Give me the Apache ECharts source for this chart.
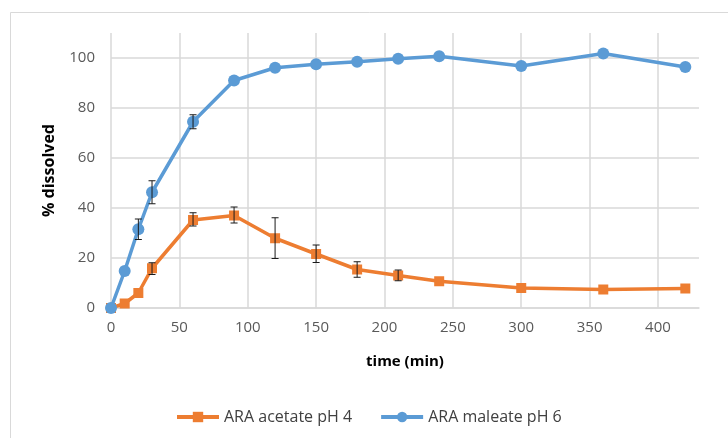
<!DOCTYPE html>
<html>
<head>
<meta charset="utf-8">
<script src="https://cdn.jsdelivr.net/npm/echarts@6/dist/echarts.min.js"></script>
<style>
  html, body { margin: 0; padding: 0; background: #fff; }
  #chart { width: 728px; height: 438px; }
</style>
</head>
<body>
<div id="chart"></div>
<script>
// Sampling times (min)
const times = [0, 10, 20, 30, 60, 90, 120, 150, 180, 210, 240, 300, 360, 420];

// % dissolved, mean values
const acetatePH4 = [0, 1.8, 6.0, 15.9, 35.2, 37.0, 27.9, 21.6, 15.4, 13.0, 10.7, 8.0, 7.4, 7.8];
const maleatePH6 = [0, 14.8, 31.5, 46.3, 74.5, 91.0, 96.1, 97.5, 98.5, 99.7, 100.7, 96.8, 101.8, 96.4];

// Error bar ranges [time, low, high]
const acetateErr = [
  [30, 13.4, 18.1], [60, 32.8, 38.1], [90, 34.0, 40.4], [120, 19.8, 36.1],
  [150, 18.2, 25.2], [180, 12.3, 18.5], [210, 10.9, 15.2]
];
const maleateErr = [
  [20, 27.4, 35.6], [30, 41.7, 50.9], [60, 71.7, 77.3]
];

// Axis ticks
const xTicks = [0, 50, 100, 150, 200, 250, 300, 350, 400];
const yTicks = [0, 20, 40, 60, 80, 100];

const seriesNames = ['ARA acetate pH 4', 'ARA maleate pH 6'];

const gridColor = '#d9d9d9';
const labelColor = '#595959';
const orange = '#ED7D31';
const blue = '#5B9BD5';
const font = '"Open Sans", "Liberation Sans", sans-serif';

const pairs = (xs, ys) => xs.map((x, i) => [x, ys[i]]);

// Grid lines at the labelled ticks only; the closing line at the axis max stays hidden
const xLineColors = xTicks.map(() => gridColor).concat(['rgba(0,0,0,0)']);
const yLineColors = yTicks.map(() => gridColor).concat(['rgba(0,0,0,0)']);

function errorBarRenderer(params, api) {
  const x = api.value(0);
  const lo = api.coord([x, api.value(1)]);
  const hi = api.coord([x, api.value(2)]);
  const half = 3.5;
  const style = { stroke: '#1a1a1a', lineWidth: 1 };
  return {
    type: 'group',
    children: [
      { type: 'line', shape: { x1: lo[0], y1: lo[1], x2: hi[0], y2: hi[1] }, style },
      { type: 'line', shape: { x1: hi[0] - half, y1: hi[1], x2: hi[0] + half, y2: hi[1] }, style },
      { type: 'line', shape: { x1: lo[0] - half, y1: lo[1], x2: lo[0] + half, y2: lo[1] }, style }
    ]
  };
}

const chart = echarts.init(document.getElementById('chart'), null, { renderer: 'canvas' });

chart.setOption({
  backgroundColor: '#ffffff',
  animation: false,
  graphic: [{
    type: 'rect',
    shape: { x: 10.5, y: 12.5, width: 800, height: 500 },
    style: { fill: 'none', stroke: '#d9d9d9', lineWidth: 1 },
    silent: true
  }],
  grid: { left: 111, top: 33, right: 29, bottom: 130 },
  legend: {
    data: seriesNames,
    left: 170,
    top: 404,
    itemWidth: 42,
    itemHeight: 13,
    itemGap: 27,
    lineStyle: { width: 4 },
    textStyle: { color: '#404040', fontSize: 16, fontFamily: font }
  },
  xAxis: {
    type: 'value',
    min: 0,
    max: 430,
    interval: 50,
    name: 'time (min)',
    nameLocation: 'middle',
    nameGap: 46,
    nameTextStyle: { color: '#000', fontSize: 15, fontWeight: 'bold', fontFamily: font },
    axisLine: { show: true, lineStyle: { color: gridColor, width: 1.5 } },
    axisTick: { show: false },
    axisLabel: { color: labelColor, fontSize: 15, fontFamily: font, margin: 12, showMaxLabel: false },
    splitLine: { show: true, lineStyle: { color: xLineColors, width: 1.5 } }
  },
  yAxis: {
    type: 'value',
    min: 0,
    max: 110,
    interval: 20,
    name: '% dissolved',
    nameLocation: 'middle',
    nameGap: 54,
    nameRotate: 90,
    nameTextStyle: { color: '#000', fontSize: 16, fontWeight: 'bold', fontFamily: font },
    axisLine: { show: false },
    axisTick: { show: false },
    axisLabel: { color: labelColor, fontSize: 15, fontFamily: font, margin: 16, showMaxLabel: false },
    splitLine: { show: true, lineStyle: { color: yLineColors, width: 1.5 } }
  },
  series: [
    {
      name: seriesNames[0],
      type: 'line',
      data: pairs(times, acetatePH4),
      symbol: 'rect',
      symbolSize: 10,
      lineStyle: { color: orange, width: 3.5 },
      itemStyle: { color: orange },
      z: 2
    },
    {
      name: seriesNames[1],
      type: 'line',
      data: pairs(times, maleatePH6),
      symbol: 'circle',
      symbolSize: 12,
      lineStyle: { color: blue, width: 3.5 },
      itemStyle: { color: blue },
      z: 3
    },
    {
      type: 'custom',
      name: 'acetate error',
      data: acetateErr,
      renderItem: errorBarRenderer,
      encode: { x: 0, y: [1, 2] },
      z: 5,
      silent: true
    },
    {
      type: 'custom',
      name: 'maleate error',
      data: maleateErr,
      renderItem: errorBarRenderer,
      encode: { x: 0, y: [1, 2] },
      z: 5,
      silent: true
    }
  ]
});
</script>
</body>
</html>
